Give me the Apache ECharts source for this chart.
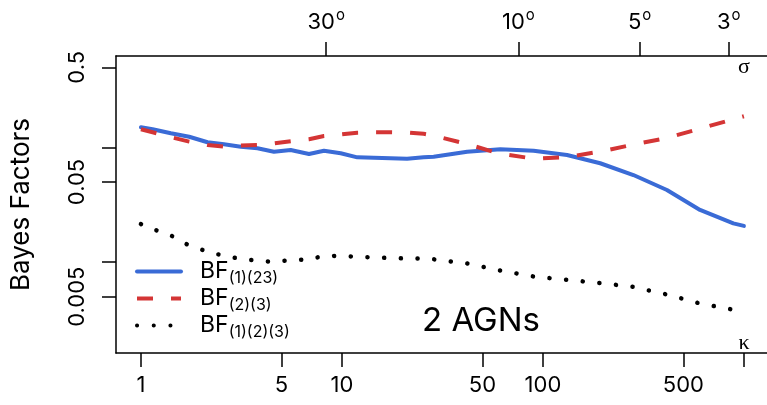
<!DOCTYPE html>
<html>
<head>
<meta charset="utf-8">
<script src="https://cdn.jsdelivr.net/npm/echarts@6/dist/echarts.min.js"></script>
<style>html,body{margin:0;padding:0;background:#fff}#c{width:767px;height:405px}</style>
</head>
<body>
<div id="c"></div>
<script>
// ---- data ----
const kappa = [1, 1.143, 1.409, 1.738, 2.145, 2.59, 3.14, 3.80, 4.59, 5.56, 6.86, 8.14, 9.86, 11.93, 14.42, 17.46, 21.1, 25.5, 28.6, 42, 61.4, 89.9, 131.8, 192.8, 282, 414, 605, 886, 1000];
const bf1_23 = [0.150, 0.144, 0.133, 0.124, 0.111, 0.1066, 0.1016, 0.0984, 0.0918, 0.095, 0.0877, 0.0937, 0.0889, 0.082, 0.0814, 0.0805, 0.0798, 0.082, 0.0831, 0.0918, 0.0964, 0.0937, 0.0860, 0.0728, 0.0575, 0.0426, 0.0285, 0.0218, 0.0207];
const bf2_3 = [0.144, 0.1356, 0.123, 0.1125, 0.105, 0.1015, 0.104, 0.105, 0.1086, 0.113, 0.118, 0.126, 0.130, 0.1345, 0.1356, 0.1356, 0.1348, 0.1315, 0.127, 0.107, 0.088, 0.080, 0.0825, 0.092, 0.106, 0.121, 0.146, 0.176, 0.187];
const bf1_2_3 = [0.0215, 0.01946, 0.0171, 0.01393, 0.01239, 0.01132, 0.01069, 0.01032, 0.01004, 0.01045, 0.01054, 0.01137, 0.01132, 0.01114, 0.01099, 0.01086, 0.01076, 0.01078, 0.01059, 0.00973, 0.00845, 0.0075, 0.0070, 0.00658, 0.00608, 0.00522, 0.00436, 0.00385, 0.00375];
const seriesNames = ['BF(1)(23)', 'BF(2)(3)', 'BF(1)(2)(3)'];
const seriesSubs = ['(1)(23)', '(2)(3)', '(1)(2)(3)'];
const xTicks = [1, 5, 10, 50, 100, 500, 1000];
const xLabels = [1, 5, 10, 50, 100, 500];
const yTicks = [0.5, 0.1, 0.05, 0.01, 0.005];
const yLabels = [0.5, 0.05, 0.005];
const sigmaKappa = [8.35, 75.5, 303, 840];
const sigmaLabels = ['30', '10', '5', '3'];
const xMin = 0.7516, xMax = 1303;
const yMin = 0.001614, yMax = 0.627;

const FONT = 'Inter, Liberation Sans, Arial, sans-serif';
const chart = echarts.init(document.getElementById('c'), null, {renderer: 'canvas'});

function nearestIdx(arr, v) {
  let b = 0, bd = Infinity;
  arr.forEach((a, i) => { const d = Math.abs(Math.log(a) - Math.log(v)); if (d < bd) { bd = d; b = i; } });
  return b;
}
const axisLine = {show: true, lineStyle: {color: '#000', width: 1.5}};
const tick = (vals) => ({show: true, inside: false, length: 14, customValues: vals, lineStyle: {color: '#000', width: 1.5}});

const option = {
  animation: false,
  backgroundColor: '#fff',
  grid: {left: 115, right: 0, top: 56, bottom: 52, containLabel: false},
  xAxis: [
    {
      type: 'log', logBase: 10, min: xMin, max: xMax, position: 'bottom',
      axisLine: axisLine, axisTick: tick(xTicks), splitLine: {show: false}, minorTick: {show: false},
      axisLabel: {customValues: xLabels, fontSize: 22, fontFamily: FONT, color: '#000', margin: 21,
        formatter: v => String(Math.round(v))}
    },
    {
      type: 'log', logBase: 10, min: xMin, max: xMax, position: 'top',
      axisLine: axisLine, axisTick: tick(sigmaKappa), splitLine: {show: false},
      axisLabel: {customValues: sigmaKappa, color: '#000', margin: 19,
        formatter: v => '{d|' + sigmaLabels[nearestIdx(sigmaKappa, v)] + '}{o|o}',
        rich: {d: {fontSize: 22, fontFamily: FONT, color: '#000'},
               o: {fontSize: 15, fontFamily: FONT, color: '#000', padding: [0, 0, 14, 1]}}}
    }
  ],
  yAxis: {
    type: 'log', logBase: 10, min: yMin, max: yMax,
    axisLine: axisLine, axisTick: tick(yTicks), splitLine: {show: false},
    axisLabel: {customValues: yLabels, rotate: 90, fontSize: 22, fontFamily: FONT, color: '#000', margin: 28,
      formatter: v => String(+v.toPrecision(3))},
    name: 'Bayes Factors', nameLocation: 'middle', nameRotate: 90, nameGap: 82,
    nameTextStyle: {fontSize: 26, fontFamily: FONT, color: '#000'}
  },
  legend: {
    orient: 'vertical', left: 135, top: 260, padding: 0, itemWidth: 44, itemHeight: 14, itemGap: 0.5,
    data: seriesNames,
    itemStyle: {opacity: 0, borderWidth: 0},
    lineStyle: {width: 4},
    formatter: name => '{b|BF}{s|' + seriesSubs[seriesNames.indexOf(name)] + '}',
    textStyle: {rich: {
      b: {fontSize: 23, fontFamily: FONT, color: '#000', padding: [0, 0, 0, 14]},
      s: {fontSize: 16, fontFamily: FONT, color: '#000', padding: [14, 0, 0, 0]}
    }}
  },
  graphic: [
    {type: 'text', style: {text: '2 AGNs', x: 481, y: 321, align: 'center', verticalAlign: 'middle', fontSize: 33, fontFamily: FONT, fill: '#000'}},
    {type: 'text', style: {text: 'σ', x: 744, y: 67, align: 'center', verticalAlign: 'middle', fontSize: 22, fontFamily: 'Liberation Serif, serif', fill: '#000'}},
    {type: 'text', style: {text: 'κ', x: 744, y: 343, align: 'center', verticalAlign: 'middle', fontSize: 22, fontFamily: 'Liberation Serif, serif', fill: '#000'}}
  ],
  series: [
    {name: seriesNames[0], type: 'line', xAxisIndex: 0, showSymbol: false, symbol: 'none',
     data: kappa.map((k, i) => [k, bf1_23[i]]),
     lineStyle: {color: '#3a6bd6', width: 4, cap: 'round', join: 'round'}, itemStyle: {color: '#3a6bd6'}},
    {name: seriesNames[1], type: 'line', xAxisIndex: 0, showSymbol: false, symbol: 'none',
     data: kappa.map((k, i) => [k, bf2_3[i]]),
     lineStyle: {color: '#d43535', width: 4, type: [16, 18], cap: 'butt'}, itemStyle: {color: '#d43535'}},
    {name: seriesNames[2], type: 'line', xAxisIndex: 0, showSymbol: false, symbol: 'none',
     data: kappa.map((k, i) => [k, bf1_2_3[i]]),
     lineStyle: {color: '#000', width: 4.5, type: [0.1, 16.6], cap: 'round'}, itemStyle: {color: '#000'}}
  ]
};
chart.setOption(option);
</script>
</body>
</html>
